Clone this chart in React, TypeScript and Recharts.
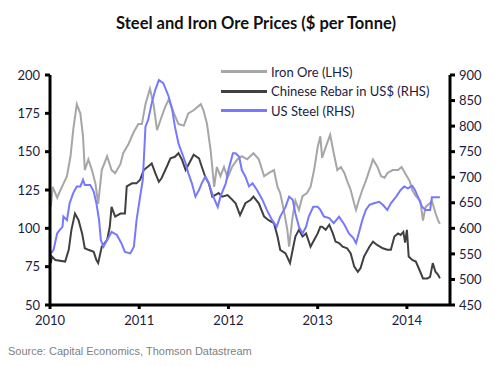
import { LineChart, Line, XAxis, YAxis, Legend } from "recharts"

// iron ore, $ per tonne (left axis)
const ironOreT = [
  2010.01, 2010.03, 2010.08, 2010.11, 2010.15, 2010.19, 2010.23, 2010.26, 2010.3, 2010.34,
  2010.37, 2010.39, 2010.43, 2010.47, 2010.51, 2010.54, 2010.58, 2010.64, 2010.69, 2010.73,
  2010.79, 2010.82, 2010.88, 2010.94, 2010.99, 2011.03, 2011.07, 2011.12, 2011.16, 2011.2,
  2011.24, 2011.29, 2011.33, 2011.39, 2011.44, 2011.5, 2011.55, 2011.61, 2011.69, 2011.72,
  2011.76, 2011.8, 2011.84, 2011.87, 2011.91, 2011.95, 2011.99, 2012.04, 2012.1, 2012.15,
  2012.21, 2012.28, 2012.34, 2012.4, 2012.45, 2012.51, 2012.55, 2012.58, 2012.62, 2012.66,
  2012.68, 2012.72, 2012.75, 2012.79, 2012.83, 2012.88, 2012.92, 2012.96, 2013.0, 2013.03,
  2013.05, 2013.09, 2013.14, 2013.18, 2013.22, 2013.26, 2013.3, 2013.33, 2013.37, 2013.41,
  2013.43, 2013.46, 2013.5, 2013.54, 2013.58, 2013.62, 2013.67, 2013.71, 2013.75, 2013.78,
  2013.84, 2013.9, 2013.94, 2013.98, 2014.03, 2014.06, 2014.1, 2014.15, 2014.18, 2014.21,
  2014.25, 2014.28, 2014.32, 2014.35, 2014.37,
]
const ironOre = [
  114, 127, 120, 124, 129, 134, 147, 164, 181, 175,
  160, 138, 145, 138, 129, 116, 138, 147, 138, 136,
  142, 149, 155, 163, 168, 168, 181, 191, 181, 164,
  171, 179, 184, 175, 168, 167, 175, 177, 181, 177,
  168, 151, 127, 140, 134, 140, 133, 140, 145, 147,
  145, 149, 145, 134, 136, 138, 127, 123, 112, 99,
  88, 108, 118, 112, 121, 123, 127, 138, 153, 160,
  146, 153, 161, 149, 138, 140, 136, 131, 125, 116,
  112, 118, 125, 131, 138, 145, 140, 134, 133, 136,
  138, 138, 140, 136, 131, 125, 121, 118, 105, 114,
  116, 118, 110, 105, 103,
]

// chinese rebar in US$ (right axis)
const rebarT = [
  2010.01, 2010.02, 2010.06, 2010.17, 2010.21, 2010.24, 2010.28, 2010.32, 2010.36, 2010.39,
  2010.43, 2010.49, 2010.52, 2010.54, 2010.58, 2010.64, 2010.67, 2010.69, 2010.73, 2010.79,
  2010.84, 2010.86, 2010.92, 2010.97, 2011.01, 2011.05, 2011.1, 2011.14, 2011.18, 2011.22,
  2011.25, 2011.31, 2011.35, 2011.4, 2011.44, 2011.48, 2011.52, 2011.55, 2011.61, 2011.67,
  2011.7, 2011.74, 2011.78, 2011.82, 2011.85, 2011.89, 2011.93, 2011.99, 2012.02, 2012.08,
  2012.13, 2012.19, 2012.25, 2012.28, 2012.34, 2012.4, 2012.45, 2012.51, 2012.55, 2012.58,
  2012.64, 2012.69, 2012.72, 2012.75, 2012.79, 2012.83, 2012.87, 2012.92, 2012.96, 2013.0,
  2013.03, 2013.05, 2013.09, 2013.13, 2013.17, 2013.2, 2013.24, 2013.28, 2013.33, 2013.37,
  2013.41, 2013.45, 2013.48, 2013.52, 2013.58, 2013.62, 2013.67, 2013.73, 2013.78, 2013.82,
  2013.86, 2013.9, 2013.93, 2013.96, 2013.98, 2014.0, 2014.02, 2014.06, 2014.1, 2014.14,
  2014.18, 2014.23, 2014.26, 2014.29, 2014.32, 2014.35, 2014.37,
]
const rebar = [
  532, 545, 538, 535, 558, 597, 629, 616, 590, 561,
  558, 554, 538, 532, 564, 577, 603, 642, 623, 629,
  629, 682, 688, 688, 695, 714, 721, 727, 708, 691,
  698, 721, 737, 740, 747, 734, 714, 724, 744, 737,
  721, 701, 688, 662, 665, 669, 662, 665, 660, 649,
  626, 649, 656, 662, 649, 623, 616, 610, 584, 558,
  551, 532, 558, 584, 597, 584, 590, 564, 577, 590,
  603, 603, 597, 607, 590, 574, 571, 564, 561, 551,
  525, 515, 522, 545, 564, 574, 567, 561, 558, 558,
  584, 590, 587, 593, 572, 597, 545, 538, 535, 519,
  502, 502, 505, 532, 515, 509, 502,
]

// US steel (right axis)
const usSteelT = [
  2010.01, 2010.04, 2010.08, 2010.11, 2010.14, 2010.15, 2010.19, 2010.22, 2010.26, 2010.3,
  2010.34, 2010.37, 2010.39, 2010.45, 2010.49, 2010.52, 2010.55, 2010.57, 2010.6, 2010.64,
  2010.69, 2010.75, 2010.8, 2010.84, 2010.9, 2010.94, 2010.97, 2011.01, 2011.04, 2011.07,
  2011.1, 2011.14, 2011.18, 2011.22, 2011.27, 2011.33, 2011.37, 2011.4, 2011.44, 2011.48,
  2011.52, 2011.55, 2011.59, 2011.63, 2011.67, 2011.7, 2011.74, 2011.78, 2011.83, 2011.88,
  2011.91, 2011.97, 2012.0, 2012.05, 2012.08, 2012.12, 2012.15, 2012.19, 2012.23, 2012.27,
  2012.32, 2012.38, 2012.43, 2012.49, 2012.54, 2012.58, 2012.64, 2012.68, 2012.72, 2012.75,
  2012.79, 2012.83, 2012.87, 2012.9, 2012.95, 2013.0, 2013.03, 2013.07, 2013.13, 2013.18,
  2013.24, 2013.3, 2013.35, 2013.4, 2013.43, 2013.46, 2013.5, 2013.54, 2013.58, 2013.63,
  2013.69, 2013.73, 2013.78, 2013.82, 2013.88, 2013.93, 2013.97, 2014.01, 2014.06, 2014.09,
  2014.13, 2014.17, 2014.21, 2014.26, 2014.28, 2014.37,
]
const usSteel = [
  551, 558, 590, 597, 603, 623, 616, 649, 669, 682,
  682, 695, 685, 685, 672, 649, 616, 577, 564, 577,
  593, 587, 571, 554, 551, 564, 616, 662, 695, 799,
  812, 845, 871, 890, 884, 858, 832, 799, 766, 747,
  727, 708, 688, 662, 675, 688, 701, 688, 662, 642,
  662, 688, 714, 747, 747, 740, 714, 701, 682, 688,
  675, 656, 636, 616, 603, 623, 642, 662, 656, 629,
  603, 590, 603, 623, 642, 642, 636, 623, 620, 610,
  623, 607, 590, 581, 571, 590, 616, 636, 646, 649,
  652, 646, 636, 649, 662, 675, 682, 678, 683, 675,
  659, 642, 636, 636, 661, 661,
]

const yearTicks = [2010, 2011, 2012, 2013, 2014]
const leftTicks = [50, 75, 100, 125, 150, 175, 200]
const rightTicks = [450, 500, 550, 600, 650, 700, 750, 800, 850, 900]

const zip = (ts: number[], vs: number[]) => ts.map((t, i) => ({ t, v: vs[i] }))

const series = [
  { name: "Iron Ore (LHS)", color: "#a6a6a6", axis: "left", data: zip(ironOreT, ironOre) },
  { name: "Chinese Rebar in US$ (RHS)", color: "#404040", axis: "right", data: zip(rebarT, rebar) },
  { name: "US Steel (RHS)", color: "#7878ff", axis: "right", data: zip(usSteelT, usSteel) },
]

const textColor = "#1c1c40"
const font = "Lato, 'Open Sans', sans-serif"
const tickStyle = { fontSize: 13, fill: textColor, fontFamily: font }

const LegendBox = () => (
  <div style={{ fontFamily: font, fontSize: 13, color: textColor }}>
    {series.map((s) => (
      <div key={s.name} style={{ display: "flex", alignItems: "center", height: 19.5 }}>
        <div style={{ width: 46, height: 3, background: s.color, marginRight: 4 }} />
        <span>{s.name}</span>
      </div>
    ))}
  </div>
)

export default function App() {
  return (
    <div style={{ position: "absolute", left: 0, top: 0, width: 494, height: 366, background: "#fff" }}>
      <div
        style={{
          position: "absolute",
          top: 13,
          left: 0,
          width: 512,
          textAlign: "center",
          fontFamily: font,
          fontWeight: 700,
          fontSize: 16.5,
          color: "#111",
        }}
      >
        Steel and Iron Ore Prices ($ per Tonne)
      </div>
      <LineChart width={494} height={366} margin={{ top: 75, right: 0, bottom: 31, left: 0 }}>
        <XAxis
          dataKey="t"
          type="number"
          domain={[2010, 2014.483]}
          ticks={yearTicks}
          tickFormatter={(v) => String(v)}
          allowDuplicatedCategory={false}
          stroke="#000"
          strokeWidth={3}
          tickSize={4}
          tickMargin={7}
          tick={tickStyle}
          height={30}
        />
        <YAxis
          yAxisId="left"
          domain={[50, 200]}
          ticks={leftTicks}
          width={50}
          stroke="#000"
          strokeWidth={3}
          tickSize={5}
          tickMargin={5}
          tick={tickStyle}
        />
        <YAxis
          yAxisId="right"
          orientation="right"
          domain={[450, 900]}
          ticks={rightTicks}
          width={44}
          stroke="#000"
          strokeWidth={3}
          tickSize={5}
          tickMargin={4}
          tick={tickStyle}
        />
        <Legend
          layout="vertical"
          align="center"
          verticalAlign="middle"
          content={<LegendBox />}
          wrapperStyle={{ position: "absolute", top: 62, left: 221, width: 240 }}
        />
        {series.map((s) => (
          <Line
            key={s.name}
            data={s.data}
            dataKey="v"
            name={s.name}
            yAxisId={s.axis}
            type="linear"
            stroke={s.color}
            strokeWidth={2}
            dot={false}
            isAnimationActive={false}
          />
        ))}
      </LineChart>
      <div
        style={{
          position: "absolute",
          top: 345,
          left: 8,
          fontFamily: "'Liberation Sans', Arial, sans-serif",
          fontSize: 11,
          color: "#7f7f7f",
        }}
      >
        Source: Capital Economics, Thomson Datastream
      </div>
    </div>
  )
}
